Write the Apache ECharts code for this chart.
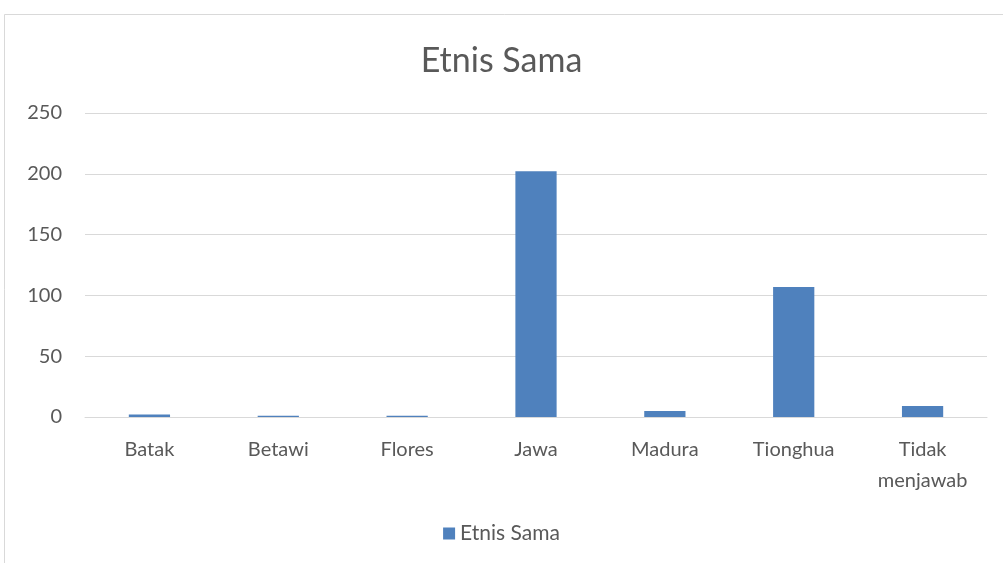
<!DOCTYPE html>
<html>
<head>
<meta charset="utf-8">
<script src="https://cdn.jsdelivr.net/npm/echarts@6/dist/echarts.min.js"></script>
<style>
  html, body { margin: 0; padding: 0; background: #fff; }
  #main { width: 1003px; height: 563px; }
</style>
</head>
<body>
<div id="main"></div>
<script>
var categories = ['Batak', 'Betawi', 'Flores', 'Jawa', 'Madura', 'Tionghua', 'Tidak\nmenjawab'];
var values = [2, 1, 1, 202, 5, 107, 9];
var yTicks = { min: 0, max: 250, interval: 50 };

var myChart = echarts.init(document.getElementById('main'));
var font = 'Lato, "Open Sans", sans-serif';

option = {
    backgroundColor: '#fff',
    textStyle: { fontFamily: font },
    graphic: [{
        type: 'rect',
        shape: { x: 4.5, y: 14.5, width: 1100, height: 600 },
        style: { fill: 'none', stroke: '#d9d9d9', lineWidth: 1 },
        silent: true
    }],
    title: {
        text: 'Etnis Sama',
        left: 'center',
        top: 39,
        textStyle: { fontFamily: font, fontSize: 34, fontWeight: 'normal', color: '#595959' }
    },
    legend: {
        data: ['Etnis Sama'],
        bottom: 14,
        left: 'center',
        itemWidth: 12,
        itemHeight: 12,
        itemGap: 8,
        icon: 'rect',
        textStyle: { fontFamily: font, fontSize: 21, color: '#595959' }
    },
    grid: { left: 85, right: 16, top: 113, bottom: 146, containLabel: false },
    xAxis: {
        type: 'category',
        data: categories,
        axisLine: { lineStyle: { color: '#d9d9d9', width: 1 } },
        axisTick: { show: false },
        axisLabel: { fontFamily: font, fontSize: 20, color: '#595959', margin: 17, lineHeight: 31 }
    },
    yAxis: {
        type: 'value',
        min: yTicks.min,
        max: yTicks.max,
        interval: yTicks.interval,
        axisLine: { show: false },
        axisTick: { show: false },
        splitLine: { lineStyle: { color: '#d9d9d9', width: 1 } },
        axisLabel: { fontFamily: font, fontSize: 20, color: '#595959', margin: 23 }
    },
    series: [{
        name: 'Etnis Sama',
        type: 'bar',
        data: values,
        barWidth: '32%',
        itemStyle: { color: '#4f81bd' }
    }]
};

myChart.setOption(option, true);
</script>
</body>
</html>
